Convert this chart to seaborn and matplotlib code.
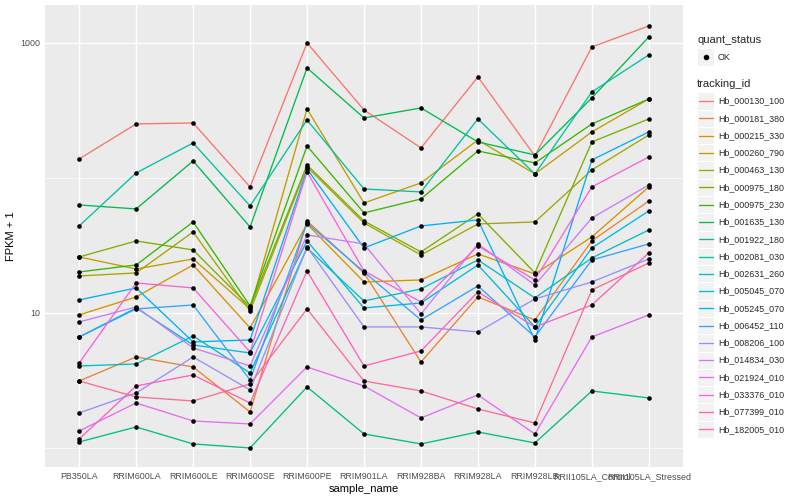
import matplotlib
matplotlib.use("Agg")
import matplotlib.pyplot as plt
from matplotlib.lines import Line2D
from matplotlib.patches import Rectangle
import numpy as np
import pandas as pd
import seaborn as sns

samples = ["PB350LA", "RRIM600LA", "RRIM600LE", "RRIM600SE", "RRIM600PE", "RRIM901LA",
           "RRIM928BA", "RRIM928LA", "RRIM928LB", "RRII105LA_Control", "RRII105LA_Stressed"]

tracking_ids = ["Hb_000130_100", "Hb_000181_380", "Hb_000215_330", "Hb_000260_790",
                "Hb_000463_130", "Hb_000975_180", "Hb_000975_230", "Hb_001635_130",
                "Hb_001922_180", "Hb_002081_030", "Hb_002631_260", "Hb_005045_070",
                "Hb_005245_070", "Hb_006452_110", "Hb_008206_100", "Hb_014834_030",
                "Hb_021924_010", "Hb_033376_010", "Hb_077399_010", "Hb_182005_010"]

# ggplot default hue palette, 20 levels
palette = ["#F8766D", "#EA8331", "#D89000", "#C09B00", "#A3A500", "#7CAE00", "#39B600",
           "#00BB4E", "#00BF7D", "#00C1A3", "#00BFC4", "#00BAE0", "#00B0F6", "#35A2FF",
           "#9590FF", "#C77CFF", "#E76BF3", "#FA62DB", "#FF62BC", "#FF6C91"]

# FPKM + 1, one list per gene, in sample order
hb_000130_100 = [138.2, 251.2, 255.5, 85.8, 1000, 318.9, 166.8, 560.0, 145.5, 934, 1336]
hb_000181_380 = [3.135, 4.722, 3.981, 1.848, 48.03, 19.79, 4.336, 13.14, 8.874, 34.15, 67.54]
hb_000215_330 = [9.665, 13.14, 22.68, 7.743, 45.62, 16.97, 17.56, 27.35, 19.45, 36.56, 85.8]
hb_000260_790 = [25.99, 21.18, 25.12, 10.71, 324.4, 65.28, 91.83, 191.2, 107.1, 219.1, 384.8]
hb_000463_130 = [18.80, 19.79, 39.81, 10.35, 120.6, 46.42, 26.89, 45.62, 47.22, 114.6, 208.2]
hb_000975_180 = [25.99, 34.15, 29.29, 11.08, 124.8, 48.03, 28.31, 54.12, 19.79, 184.8, 273.5]
hb_000975_230 = [20.12, 22.68, 47.22, 11.27, 172.6, 55.05, 69.90, 158.5, 129.2, 251.2, 384.8]
hb_001635_130 = [63.10, 58.94, 133.6, 43.36, 652.8, 278.3, 330.0, 184.8, 148.0, 391.4, 1108]
hb_001922_180 = [1.108, 1.431, 1.071, 1.0, 2.831, 1.270, 1.071, 1.314, 1.089, 2.644, 2.346]
hb_002081_030 = [44.10, 108.9, 181.6, 62.04, 268.9, 82.87, 78.76, 273.5, 107.1, 433.6, 815.2]
hb_002631_260 = [4.050, 4.190, 6.754, 3.594, 30.30, 12.27, 15.06, 24.70, 12.92, 25.55, 41.18]
hb_005045_070 = [6.640, 10.89, 5.794, 5.053, 34.15, 10.89, 11.86, 22.68, 7.876, 30.30, 56.95]
hb_005245_070 = [12.49, 15.32, 6.099, 6.310, 116.6, 30.30, 44.10, 48.85, 6.310, 135.9, 219.1]
hb_006452_110 = [6.640, 10.71, 11.46, 3.189, 46.42, 20.12, 8.874, 15.85, 6.640, 24.70, 32.44]
hb_008206_100 = [1.817, 2.555, 4.722, 2.689, 30.82, 7.876, 7.876, 7.234, 12.70, 16.97, 25.12]
hb_014834_030 = [8.577, 11.08, 5.505, 4.050, 37.83, 32.44, 9.830, 32.44, 16.12, 50.53, 88.74]
hb_021924_010 = [1.336, 2.154, 1.585, 1.506, 3.981, 2.879, 1.668, 2.470, 1.270, 6.640, 9.665]
hb_033376_010 = [4.262, 16.68, 15.32, 5.142, 110.8, 20.47, 12.06, 31.35, 17.56, 85.8, 143.0]
hb_077399_010 = [1.166, 2.879, 3.473, 2.154, 20.47, 4.050, 5.231, 14.31, 7.876, 11.46, 27.83]
hb_182005_010 = [3.135, 2.387, 2.229, 2.980, 10.71, 3.135, 2.644, 1.945, 1.532, 14.80, 23.46]

series = [hb_000130_100, hb_000181_380, hb_000215_330, hb_000260_790, hb_000463_130,
          hb_000975_180, hb_000975_230, hb_001635_130, hb_001922_180, hb_002081_030,
          hb_002631_260, hb_005045_070, hb_005245_070, hb_006452_110, hb_008206_100,
          hb_014834_030, hb_021924_010, hb_033376_010, hb_077399_010, hb_182005_010]

rows = []
for tid, vals in zip(tracking_ids, series):
    for s, v in zip(samples, vals):
        rows.append({"sample_name": s, "tracking_id": tid, "fpkm": v, "quant_status": "OK"})
df = pd.DataFrame(rows)

sns.set_theme(style="darkgrid", rc={
    "axes.facecolor": "#EBEBEB",
    "grid.color": "white",
    "axes.edgecolor": "#EBEBEB",
})
plt.rcParams["font.family"] = ["Liberation Sans", "DejaVu Sans"]

W, H = 800, 500
fig, ax = plt.subplots(figsize=(8, 5), dpi=100)
fig.subplots_adjust(left=45 / W, right=683 / W, bottom=1 - 467 / H, top=1 - 5 / H)

sns.lineplot(data=df, x="sample_name", y="fpkm", hue="tracking_id", hue_order=tracking_ids,
             palette=palette, sort=False, estimator=None, linewidth=0.95, legend=False, ax=ax)
sns.scatterplot(data=df, x="sample_name", y="fpkm", color="black", s=11, linewidth=0,
                legend=False, ax=ax, zorder=5)

ax.set_yscale("log")
ax.set_xlim(-0.6, len(samples) - 0.4)
ax.set_ylim(10 ** -0.141, 10 ** 3.281)
ax.set_yticks([10, 1000])
ax.set_yticklabels(["10", "1000"])
ax.set_yticks([1, 100], minor=True)
ax.set_yticklabels([], minor=True)
ax.grid(True, which="major", color="white", linewidth=1.0)
ax.grid(True, which="minor", axis="y", color="white", linewidth=0.5)
ax.tick_params(axis="both", which="major", length=2.2, width=0.8, color="#333333",
               labelsize=6.4, labelcolor="#4D4D4D", pad=1.5)
ax.tick_params(axis="y", which="minor", length=0)
for sp in ax.spines.values():
    sp.set_visible(False)

ax.set_xlabel("sample_name", fontsize=8, color="black", labelpad=2)
ax.set_ylabel("FPKM + 1", fontsize=8, color="black", labelpad=3)

# legend, drawn the ggplot way on the right side
def fx(x):
    return x / W

def fy(y):
    return 1 - y / H

key = 17.28
kx = 697
tx = 718

fig.text(fx(kx), fy(40), "quant_status", fontsize=8, va="center", ha="left")
fig.patches.append(Rectangle((fx(kx), fy(57 + key / 2)), key / W, key / H,
                             transform=fig.transFigure, facecolor="#F2F2F2",
                             edgecolor="white", linewidth=0.8))
fig.lines.append(Line2D([fx(kx + key / 2)], [fy(57)], transform=fig.transFigure,
                        marker="o", markersize=3.0, color="black", linestyle="none"))
fig.text(fx(tx), fy(57), "OK", fontsize=6.4, va="center", ha="left")

fig.text(fx(kx), fy(84), "tracking_id", fontsize=8, va="center", ha="left")
for i, (tid, col) in enumerate(zip(tracking_ids, palette)):
    cy = 101 + i * key
    fig.patches.append(Rectangle((fx(kx), fy(cy + key / 2)), key / W, key / H,
                                 transform=fig.transFigure, facecolor="#F2F2F2",
                                 edgecolor="white", linewidth=0.8))
    fig.lines.append(Line2D([fx(kx + 1.5), fx(kx + key - 1.5)], [fy(cy), fy(cy)],
                            transform=fig.transFigure, color=col, linewidth=0.95))
    fig.text(fx(tx), fy(cy), tid, fontsize=6.4, va="center", ha="left")

fig.savefig("out.png", dpi=100, facecolor="white")
